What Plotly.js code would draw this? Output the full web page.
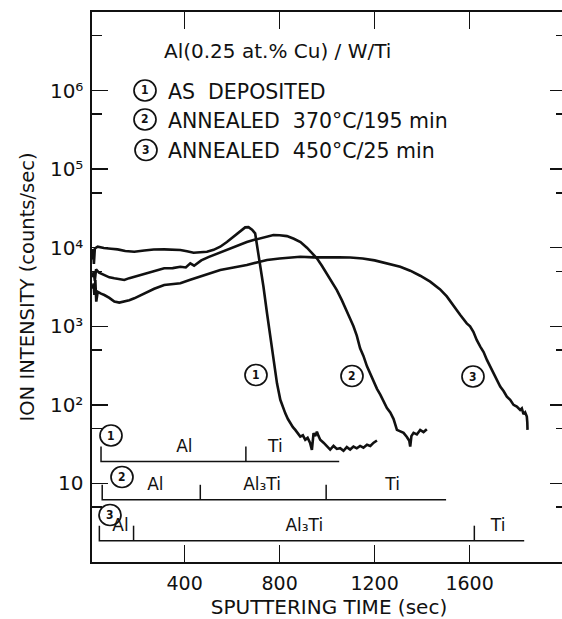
<!DOCTYPE html>
<html>
<head>
<meta charset="utf-8">
<script src="https://cdn.plot.ly/plotly-3.0.1.min.js"></script>
<style>
html,body{margin:0;padding:0;overflow:hidden;background:#fff;}
#chart{width:570px;height:619px;}
</style>
</head>
<body>
<div id="chart"></div>
<script>
// ---- Data ----
// Curve 1: AS DEPOSITED
const t1 = [12, 15, 18, 22, 34, 60, 90, 118, 150, 188, 230, 270, 314, 350, 382, 410, 438, 466, 494, 522, 550, 578, 606, 630, 655, 669, 684, 697, 708, 718, 732, 747, 760, 774, 789, 803, 814, 824, 835, 845, 856, 866, 876, 887, 898, 908, 918, 928, 936, 940, 943, 950, 957, 964, 971, 985, 999, 1013, 1027, 1041, 1055, 1069, 1083, 1097, 1111, 1125, 1139, 1153, 1168, 1182, 1196, 1210];
const y1 = [7000, 9600, 6200, 9800, 10300, 9900, 9700, 9530, 9100, 8880, 9200, 9500, 9530, 9400, 9340, 9000, 8630, 8750, 8880, 9400, 10290, 11800, 13780, 15800, 18150, 18300, 17000, 15230, 9300, 6330, 3190, 1465, 738, 373, 188, 116, 92, 78, 66, 58, 52, 48, 43, 39.5, 41, 35.9, 38, 33, 26.8, 36, 43.6, 40, 45.7, 40, 35.9, 33, 29.5, 27, 30, 27.5, 28.1, 26, 29, 27, 29.5, 28, 30, 28.5, 31, 30, 33, 35.2];

// Curve 2: ANNEALED 370°C/195 min
const t2 = [12, 17, 22, 27, 40, 62, 83, 104, 125, 146, 167, 188, 210, 230, 272, 314, 350, 382, 405, 424, 440, 470, 500, 522, 550, 578, 606, 634, 662, 690, 718, 746, 774, 800, 831, 860, 888, 915, 936, 957, 978, 999, 1020, 1041, 1062, 1083, 1097, 1111, 1125, 1139, 1153, 1168, 1182, 1195, 1210, 1224, 1238, 1252, 1266, 1280, 1294, 1308, 1322, 1336, 1346, 1350, 1355, 1364, 1378, 1392, 1406, 1420];
const y2 = [4200, 4950, 3800, 5310, 4800, 4490, 4200, 4080, 3950, 3880, 4100, 4270, 4500, 4720, 5100, 5470, 5500, 5730, 5600, 6330, 5900, 6900, 7600, 8070, 8900, 9600, 10290, 11000, 11800, 12500, 13200, 13900, 14490, 14400, 14060, 13000, 11800, 10000, 8600, 7330, 5900, 4680, 3700, 2880, 2150, 1585, 1250, 1000, 760, 525, 420, 309, 245, 200, 160, 135, 110, 91, 80, 66, 48, 46, 44, 39, 35, 29.5, 40, 44, 42, 48, 45, 49];

// Curve 3: ANNEALED 450°C/25 min
const t3 = [12, 17, 20, 24, 28, 34, 48, 62, 83, 104, 125, 146, 167, 188, 210, 230, 272, 314, 350, 382, 424, 466, 508, 550, 606, 662, 704, 747, 800, 859, 887, 943, 1000, 1050, 1097, 1150, 1200, 1223, 1265, 1308, 1350, 1392, 1434, 1476, 1504, 1532, 1560, 1588, 1602, 1616, 1630, 1645, 1659, 1673, 1687, 1701, 1715, 1729, 1743, 1757, 1771, 1785, 1799, 1813, 1820, 1827, 1834, 1841, 1843, 1844];
const y3 = [3000, 3500, 2500, 3880, 2060, 2750, 2600, 2500, 2300, 2060, 2000, 2060, 2150, 2270, 2450, 2630, 3000, 3350, 3450, 3520, 3900, 4270, 4700, 5200, 5600, 6020, 6500, 6970, 7300, 7540, 7680, 7540, 7600, 7540, 7500, 7300, 6900, 6630, 6200, 5730, 5100, 4400, 3700, 2950, 2400, 1800, 1400, 1090, 1000, 850, 670, 551, 470, 373, 307, 250, 208, 171, 150, 127, 116, 100, 95, 86, 90, 76, 80, 71, 60, 48];

// Layer (phase) bars under the curves
const phase1Bounds = [48, 658, 1051];
const phase1Level = 19;
const phase1Labels = ['Al', 'Ti'];
const phase1LabelX = [399, 782];

const phase2Bounds = [53, 466, 996, 1501];
const phase2Level = 6.2;
const phase2Labels = ['Al', 'Al₃Ti', 'Ti'];
const phase2LabelX = [277, 726, 1276];

const phase3Bounds = [41, 185, 1620, 1830];
const phase3Level = 1.87;
const phase3Labels = ['Al', 'Al₃Ti', 'Ti'];
const phase3LabelX = [130, 904, 1720];

// Axis ticks
const xTickVals = [400, 800, 1200, 1600];
const yTickVals = [10, 100, 1e3, 1e4, 1e5, 1e6];
const yTickText = ['10', '10²', '10³', '10⁴', '10⁵', '10⁶'];
const yMinorVals = [5, 50, 500, 5e3, 5e4, 5e5, 5e6];

// ---- Styling ----
const FONT = 'DejaVu Sans, Verdana, sans-serif';
const TICK_FACTOR = 1.55;   // height of bar ticks (multiplicative on log axis)
const LABEL_FACTOR = 1.5;   // label height above bar

function phaseTrace(bounds, level) {
  const xs = [], ys = [];
  const top = level * TICK_FACTOR;
  xs.push(bounds[0], bounds[0], bounds[bounds.length - 1]);
  ys.push(top, level, level);
  for (let i = 1; i < bounds.length - 1; i++) {
    xs.push(null, bounds[i], bounds[i]);
    ys.push(null, level, top);
  }
  return {x: xs, y: ys, mode: 'lines', type: 'scatter', hoverinfo: 'skip',
          line: {color: '#111', width: 1.5}, showlegend: false, connectgaps: false};
}
function phaseLabels(xs, labels, level) {
  return {x: xs, y: xs.map(() => level * LABEL_FACTOR), text: labels, mode: 'text',
          type: 'scatter', textposition: 'middle center', hoverinfo: 'skip',
          textfont: {family: FONT, size: 17, color: '#111'}, showlegend: false};
}
function curve(x, y) {
  return {x: x, y: y, mode: 'lines', type: 'scatter', showlegend: false,
          line: {color: '#111', width: 2.6}};
}

const traces = [
  curve(t1, y1), curve(t2, y2), curve(t3, y3),
  phaseTrace(phase1Bounds, phase1Level), phaseTrace(phase2Bounds, phase2Level), phaseTrace(phase3Bounds, phase3Level),
  phaseLabels(phase1LabelX, phase1Labels, phase1Level),
  phaseLabels(phase2LabelX, phase2Labels, phase2Level),
  phaseLabels(phase3LabelX, phase3Labels, phase3Level)
];

// plot area in pixels: x 92..566, y 12..562
const PL = 92, PR = 566, PT = 12, PB = 562;
const px = v => (v - PL) / (PR - PL);
const py = v => (PB - v) / (PB - PT);

const circleSpots = [
  ['1', 145, 90.5], ['2', 145, 119.5], ['3', 146, 150],
  ['1', 256, 375], ['2', 352, 376], ['3', 473, 376.5],
  ['1', 111, 435.5], ['2', 122, 477], ['3', 110, 515]
];
const shapes = circleSpots.map(c => ({
  type: 'circle', xref: 'paper', yref: 'paper', xsizemode: 'pixel', ysizemode: 'pixel',
  xanchor: px(c[1]), yanchor: py(c[2]), x0: -11, x1: 11, y0: -10.5, y1: 10.5,
  line: {color: '#111', width: 1.7}, fillcolor: 'rgba(0,0,0,0)'
}));
const annotations = circleSpots.map(c => ({
  text: c[0], xref: 'paper', yref: 'paper', x: px(c[1]), y: py(c[2]),
  xanchor: 'center', yanchor: 'middle', showarrow: false,
  font: {family: 'DejaVu Sans Condensed, DejaVu Sans', size: 12, weight: 'bold', color: '#111'}
}));
annotations.push(
  {text: 'Al(0.25 at.% Cu) / W/Ti', xref: 'paper', yref: 'paper', x: px(277), y: py(51),
   xanchor: 'center', yanchor: 'middle', showarrow: false, font: {family: FONT, size: 20, color: '#111'}},
  {text: 'AS  DEPOSITED', xref: 'paper', yref: 'paper', x: px(166), y: py(91.5),
   xanchor: 'left', yanchor: 'middle', showarrow: false, font: {family: FONT, size: 20.5, color: '#111'}},
  {text: 'ANNEALED  370°C/195 min', xref: 'paper', yref: 'paper', x: px(166), y: py(120.5),
   xanchor: 'left', yanchor: 'middle', showarrow: false, font: {family: FONT, size: 20.5, color: '#111'}},
  {text: 'ANNEALED  450°C/25 min', xref: 'paper', yref: 'paper', x: px(166), y: py(150.5),
   xanchor: 'left', yanchor: 'middle', showarrow: false, font: {family: FONT, size: 20.5, color: '#111'}}
);

const layout = {
  width: 570, height: 619,
  margin: {l: PL, r: 570 - PR, t: PT, b: 619 - PB},
  paper_bgcolor: '#fff', plot_bgcolor: '#fff',
  showlegend: false,
  font: {family: FONT, color: '#111'},
  xaxis: {
    range: [10, 2006], tickmode: 'array', tickvals: xTickVals,
    ticks: 'inside', ticklen: 17, tickwidth: 1.5, tickcolor: '#111',
    showline: true, linewidth: 1.6, linecolor: '#111', mirror: 'ticks',
    showgrid: false, zeroline: false,
    tickfont: {family: FONT, size: 19, color: '#111'}, ticklabelstandoff: 4,
    title: {text: 'SPUTTERING TIME (sec)', font: {family: FONT, size: 20, color: '#111'}, standoff: 15}
  },
  yaxis: {
    type: 'log', range: [0, 7], tickmode: 'array', tickvals: yTickVals, ticktext: yTickText,
    ticks: 'inside', ticklen: 16, tickwidth: 1.5, tickcolor: '#111',
    minor: {tickmode: 'array', tickvals: yMinorVals, ticks: 'inside', ticklen: 10, tickwidth: 1.5, tickcolor: '#111', showgrid: false},
    showline: true, linewidth: 1.6, linecolor: '#111', mirror: 'ticks',
    showgrid: false, zeroline: false,
    tickfont: {family: FONT, size: 20, color: '#111'}, ticklabelstandoff: 3,
    title: {text: 'ION INTENSITY (counts/sec)', font: {family: FONT, size: 19.5, color: '#111'}, standoff: 10}
  },
  shapes: shapes,
  annotations: annotations
};

Plotly.newPlot('chart', traces, layout, {displayModeBar: false, staticPlot: true});
</script>
</body>
</html>
